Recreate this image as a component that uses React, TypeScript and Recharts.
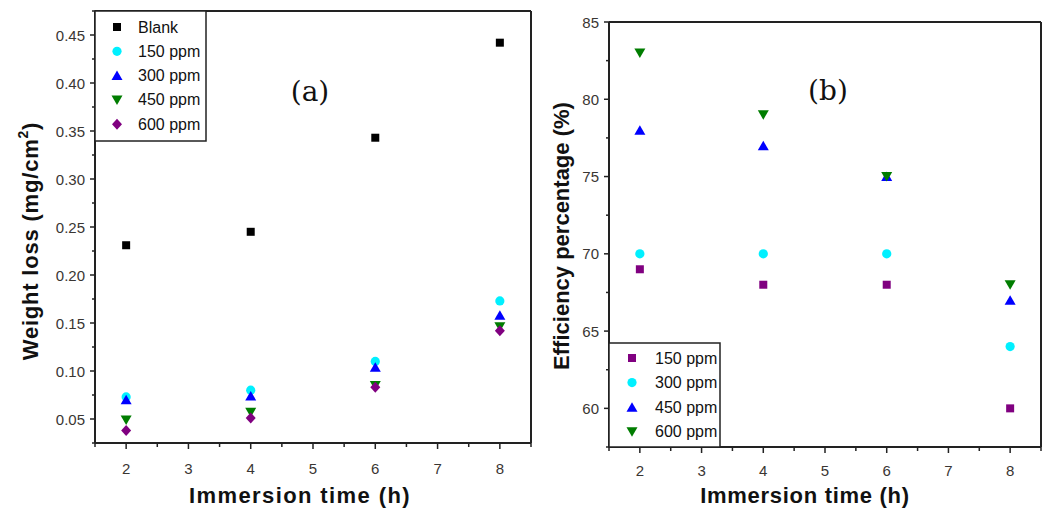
import React from "react";
import { ReferenceLine, Scatter, ScatterChart, XAxis, YAxis } from "recharts";

// immersion time (h)
const hours = [2, 4, 6, 8];

// (a) weight loss, mg/cm2
const wlBlank = [0.231, 0.245, 0.343, 0.442];
const wl150 = [0.073, 0.08, 0.11, 0.173];
const wl300 = [0.07, 0.074, 0.104, 0.158];
const wl450 = [0.049, 0.057, 0.085, 0.146];
const wl600 = [0.038, 0.051, 0.083, 0.142];

// (b) efficiency, %
const eff150 = [69, 68, 68, 60];
const eff300 = [70, 70, 70, 64];
const eff450 = [78, 77, 75, 67];
const eff600 = [83, 79, 75, 68];

const xTicks = [1.5, 2, 2.5, 3, 3.5, 4, 4.5, 5, 5.5, 6, 6.5, 7, 7.5, 8, 8.5];
const wlTicks = [0.025, 0.05, 0.075, 0.1, 0.125, 0.15, 0.175, 0.2, 0.225, 0.25, 0.275, 0.3, 0.325, 0.35, 0.375, 0.4, 0.425, 0.45, 0.475];
const effTicks = [57.5, 60, 62.5, 65, 67.5, 70, 72.5, 75, 77.5, 80, 82.5, 85];

const BLACK = "#000000";
const CYAN = "#00f0ff";
const BLUE = "#0000ff";
const GREEN = "#007d00";
const PURPLE = "#800080";
const AXIS = "#222";
const TICK_TEXT = "#3a3633";
const SANS = '"Liberation Sans", Arial, sans-serif';

type Kind = "square" | "circle" | "up" | "down" | "diamond";

function Marker({ kind, color, cx, cy }: { kind: Kind; color: string; cx: number; cy: number }) {
  if (kind === "square") return <rect x={cx - 4} y={cy - 4} width={8} height={8} fill={color} />;
  if (kind === "circle") return <circle cx={cx} cy={cy} r={4.6} fill={color} />;
  if (kind === "up")
    return <polygon points={`${cx - 5.5},${cy + 4.5} ${cx + 5.5},${cy + 4.5} ${cx},${cy - 5}`} fill={color} />;
  if (kind === "down")
    return <polygon points={`${cx - 5.5},${cy - 4.5} ${cx + 5.5},${cy - 4.5} ${cx},${cy + 5}`} fill={color} />;
  return <polygon points={`${cx},${cy - 5.5} ${cx + 5},${cy} ${cx},${cy + 5.5} ${cx - 5},${cy}`} fill={color} />;
}

const shape = (kind: Kind, color: string) => (props: any) =>
  <Marker kind={kind} color={color} cx={props.cx} cy={props.cy} />;

const toPoints = (vals: number[]) => hours.map((h, i) => ({ x: h, y: vals[i] }));

const isMajor = (v: number, step: number) => Math.abs(v / step - Math.round(v / step)) < 1e-6;

function makeYTick(step: number, digits: number) {
  return (props: any) => {
    const { x, y, payload } = props;
    const axisX = x + 8;
    const major = isMajor(payload.value, step);
    return (
      <g>
        <line x1={axisX} x2={axisX - (major ? 5 : 3)} y1={y} y2={y} stroke={AXIS} strokeWidth={1.5} />
        {major && (
          <text x={axisX - 10} y={y} textAnchor="end" dominantBaseline="central" fontSize={15} fill={TICK_TEXT} fontFamily={SANS}>
            {payload.value.toFixed(digits)}
          </text>
        )}
      </g>
    );
  };
}

function makeXTick(labelGap: number) {
  return (props: any) => {
    const { x, y, payload } = props;
    const axisY = y - 8;
    const major = isMajor(payload.value, 1);
    return (
      <g>
        <line x1={x} x2={x} y1={axisY} y2={axisY + (major ? 6 : 4)} stroke={AXIS} strokeWidth={1.5} />
        {major && (
          <text x={x} y={axisY + labelGap} textAnchor="middle" dominantBaseline="central" fontSize={15} fill={TICK_TEXT} fontFamily={SANS}>
            {payload.value}
          </text>
        )}
      </g>
    );
  };
}

const legendA: { label: string; kind: Kind; color: string }[] = [
  { label: "Blank", kind: "square", color: BLACK },
  { label: "150 ppm", kind: "circle", color: CYAN },
  { label: "300 ppm", kind: "up", color: BLUE },
  { label: "450 ppm", kind: "down", color: GREEN },
  { label: "600 ppm", kind: "diamond", color: PURPLE },
];

const legendB: { label: string; kind: Kind; color: string }[] = [
  { label: "150 ppm", kind: "square", color: PURPLE },
  { label: "300 ppm", kind: "circle", color: CYAN },
  { label: "450 ppm", kind: "up", color: BLUE },
  { label: "600 ppm", kind: "down", color: GREEN },
];

export default function App() {
  return (
    <div style={{ position: "absolute", left: 0, top: 0, width: 1051, height: 511, background: "#fff" }}>
      <div style={{ position: "absolute", left: 0, top: 0 }}>
        <ScatterChart width={540} height={511} margin={{ top: 11, right: 9, bottom: 38, left: 45 }}>
          <XAxis
            type="number"
            dataKey="x"
            domain={[1.5, 8.5]}
            ticks={xTicks}
            interval={0}
            height={30}
            tickSize={5}
            tickMargin={3}
            tickLine={false}
            tick={makeXTick(25)}
            axisLine={{ stroke: AXIS, strokeWidth: 2 }}
            allowDataOverflow
          />
          <YAxis
            type="number"
            dataKey="y"
            domain={[0.025, 0.475]}
            ticks={wlTicks}
            interval={0}
            width={50}
            tickSize={5}
            tickMargin={3}
            tickLine={false}
            tick={makeYTick(0.05, 2)}
            axisLine={{ stroke: AXIS, strokeWidth: 2 }}
            allowDataOverflow
          />
          <ReferenceLine y={0.475} stroke={AXIS} strokeWidth={2} />
          <ReferenceLine x={8.5} stroke={AXIS} strokeWidth={2} />
          <Scatter name="Blank" data={toPoints(wlBlank)} shape={shape("square", BLACK)} isAnimationActive={false} />
          <Scatter name="150 ppm" data={toPoints(wl150)} shape={shape("circle", CYAN)} isAnimationActive={false} />
          <Scatter name="300 ppm" data={toPoints(wl300)} shape={shape("up", BLUE)} isAnimationActive={false} />
          <Scatter name="450 ppm" data={toPoints(wl450)} shape={shape("down", GREEN)} isAnimationActive={false} />
          <Scatter name="600 ppm" data={toPoints(wl600)} shape={shape("diamond", PURPLE)} isAnimationActive={false} />
        </ScatterChart>
      </div>

      <div style={{ position: "absolute", left: 540, top: 0 }}>
        <ScatterChart width={511} height={511} margin={{ top: 22, right: 10, bottom: 34, left: 19 }}>
          <XAxis
            type="number"
            dataKey="x"
            domain={[1.5, 8.5]}
            ticks={xTicks}
            interval={0}
            height={30}
            tickSize={5}
            tickMargin={3}
            tickLine={false}
            tick={makeXTick(23)}
            axisLine={{ stroke: AXIS, strokeWidth: 2 }}
            allowDataOverflow
          />
          <YAxis
            type="number"
            dataKey="y"
            domain={[57.5, 85]}
            ticks={effTicks}
            interval={0}
            width={50}
            tickSize={5}
            tickMargin={3}
            tickLine={false}
            tick={makeYTick(5, 0)}
            axisLine={{ stroke: AXIS, strokeWidth: 2 }}
            allowDataOverflow
          />
          <ReferenceLine y={85} stroke={AXIS} strokeWidth={2} />
          <ReferenceLine x={8.5} stroke={AXIS} strokeWidth={2} />
          <Scatter name="150 ppm" data={toPoints(eff150)} shape={shape("square", PURPLE)} isAnimationActive={false} />
          <Scatter name="300 ppm" data={toPoints(eff300)} shape={shape("circle", CYAN)} isAnimationActive={false} />
          <Scatter name="450 ppm" data={toPoints(eff450)} shape={shape("up", BLUE)} isAnimationActive={false} />
          <Scatter name="600 ppm" data={toPoints(eff600)} shape={shape("down", GREEN)} isAnimationActive={false} />
        </ScatterChart>
      </div>

      {/* titles, panel letters and legends */}
      <svg width={1051} height={511} style={{ position: "absolute", left: 0, top: 0, pointerEvents: "none" }}>
        <text x={310} y={91} textAnchor="middle" dominantBaseline="central" fontSize={28} fontFamily='"DejaVu Serif", serif' fill="#111">
          (a)
        </text>
        <text x={828} y={90} textAnchor="middle" dominantBaseline="central" fontSize={28} fontFamily='"DejaVu Serif", serif' fill="#111">
          (b)
        </text>

        <text x={300} y={495} textAnchor="middle" dominantBaseline="central" fontSize={22} fontWeight="bold" fontFamily={SANS} letterSpacing={1.4} fill="#111">
          Immersion time (h)
        </text>
        <text x={805} y={495} textAnchor="middle" dominantBaseline="central" fontSize={22} fontWeight="bold" fontFamily={SANS} letterSpacing={0.7} fill="#111">
          Immersion time (h)
        </text>
        <text
          transform="translate(30,241) rotate(-90)"
          textAnchor="middle"
          dominantBaseline="central"
          fontSize={22}
          fontWeight="bold"
          fontFamily={SANS}
          letterSpacing={0.8}
          fill="#111"
        >
          Weight loss (mg/cm<tspan dy={-7} fontSize={14}>2</tspan>
          <tspan dy={7}>)</tspan>
        </text>
        <text
          transform="translate(561,236) rotate(-90)"
          textAnchor="middle"
          dominantBaseline="central"
          fontSize={22}
          fontWeight="bold"
          fontFamily={SANS}
          fill="#111"
        >
          Efficiency percentage (%)
        </text>

        <rect x={95} y={11} width={111} height={130} fill="#fff" stroke={AXIS} strokeWidth={1.5} />
        {legendA.map((item, i) => (
          <g key={item.label}>
            <Marker kind={item.kind} color={item.color} cx={117} cy={27 + i * 24.3} />
            <text x={138} y={27 + i * 24.3} dominantBaseline="central" fontSize={16} fontFamily={SANS} fill="#111">
              {item.label}
            </text>
          </g>
        ))}

        <rect x={609} y={343} width={111} height={104} fill="#fff" stroke={AXIS} strokeWidth={1.5} />
        {legendB.map((item, i) => (
          <g key={item.label}>
            <Marker kind={item.kind} color={item.color} cx={632} cy={358 + i * 24.6} />
            <text x={655} y={358 + i * 24.6} dominantBaseline="central" fontSize={16} fontFamily={SANS} fill="#111">
              {item.label}
            </text>
          </g>
        ))}
      </svg>
    </div>
  );
}
